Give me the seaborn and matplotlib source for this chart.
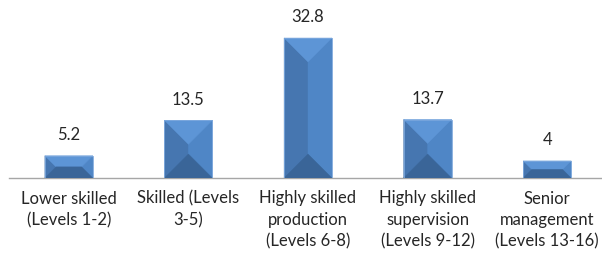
import numpy as np
import pandas as pd
import matplotlib
matplotlib.use("Agg")
import matplotlib.pyplot as plt
import seaborn as sns
from matplotlib.patches import Polygon

# data
categories = ["Lower skilled\n(Levels 1-2)",
              "Skilled (Levels\n3-5)",
              "Highly skilled\nproduction\n(Levels 6-8)",
              "Highly skilled\nsupervision\n(Levels 9-12)",
              "Senior\nmanagement\n(Levels 13-16)"]
values = [5.2, 13.5, 32.8, 13.7, 4]
value_labels = ["5.2", "13.5", "32.8", "13.7", "4"]

sns.set_style("white")
plt.rcParams['font.family'] = ['Lato', 'DejaVu Sans']

df = pd.DataFrame({"category": categories, "value": values})

fig = plt.figure(figsize=(6.02, 2.60), dpi=100)
ax = fig.add_axes([9 / 602, 82 / 260, 598 / 602, 178 / 260])

sns.barplot(data=df, x="category", y="value", color="#4a7cb8",
            width=0.4, saturation=1, ax=ax)

ax.set_xlim(-0.5, 4.5)
ax.set_ylim(0, 32.8 * 178 / 140)
fig.canvas.draw()

# pyramid bevel facets, built from each bar's own extents
top_c, bot_c, left_c, right_c = "#5d95d6", "#3a6598", "#4676b0", "#4f86c6"
for bar in ax.patches:
    x0, y0 = bar.get_x(), bar.get_y()
    x1, y1 = x0 + bar.get_width(), y0 + bar.get_height()
    p0 = ax.transData.transform((x0, y0))
    p1 = ax.transData.transform((x1, y1))
    w, h = p1[0] - p0[0], p1[1] - p0[1]
    cx, cy = (p0[0] + p1[0]) / 2, (p0[1] + p1[1]) / 2
    if h >= w:
        a = (cx, p1[1] - w / 2)
        b = (cx, p0[1] + w / 2)
        top = [(p0[0], p1[1]), (p1[0], p1[1]), a]
        bot = [(p0[0], p0[1]), (p1[0], p0[1]), b]
        left = [(p0[0], p0[1]), b, a, (p0[0], p1[1])]
        right = [(p1[0], p0[1]), b, a, (p1[0], p1[1])]
    else:
        a = (p0[0] + h / 2, cy)
        b = (p1[0] - h / 2, cy)
        top = [(p0[0], p1[1]), (p1[0], p1[1]), b, a]
        bot = [(p0[0], p0[1]), (p1[0], p0[1]), b, a]
        left = [(p0[0], p0[1]), a, (p0[0], p1[1])]
        right = [(p1[0], p0[1]), b, (p1[0], p1[1])]
    inv = ax.transData.inverted()
    for pts, col in [(left, left_c), (right, right_c), (top, top_c), (bot, bot_c)]:
        ax.add_patch(Polygon(inv.transform(np.array(pts)), closed=True,
                             facecolor=col, edgecolor=col, linewidth=0.3, zorder=3))
    # thin light outline
    ax.add_patch(Polygon(inv.transform(np.array([(p0[0], p0[1]), (p1[0], p0[1]),
                                                  (p1[0], p1[1]), (p0[0], p1[1])])),
                         closed=True, fill=False, edgecolor="#7aa6dc",
                         linewidth=0.6, zorder=4))

# value labels
for i, v in enumerate(values):
    ax.annotate(value_labels[i], (i, v), xytext=(0, 9), textcoords="offset points",
                ha="center", va="bottom", fontsize=12, color="#262626")

sns.despine(ax=ax, left=True, top=True, right=True)
ax.spines["bottom"].set_color("#a6a6a6")
ax.spines["bottom"].set_linewidth(1.0)
ax.set_yticks([])
ax.set_xlabel("")
ax.set_ylabel("")

ax.set_xticks(range(len(categories)))
ax.set_xticklabels(categories, fontsize=12, color="#262626", linespacing=1.42)
ax.tick_params(axis="x", which="major", length=0, pad=9)
ax.set_xticks(np.arange(-0.5, 5, 1), minor=True)
ax.tick_params(axis="x", which="minor", length=5, width=1, color="#a6a6a6",
               direction="out")

fig.savefig("out.png", dpi=100)
